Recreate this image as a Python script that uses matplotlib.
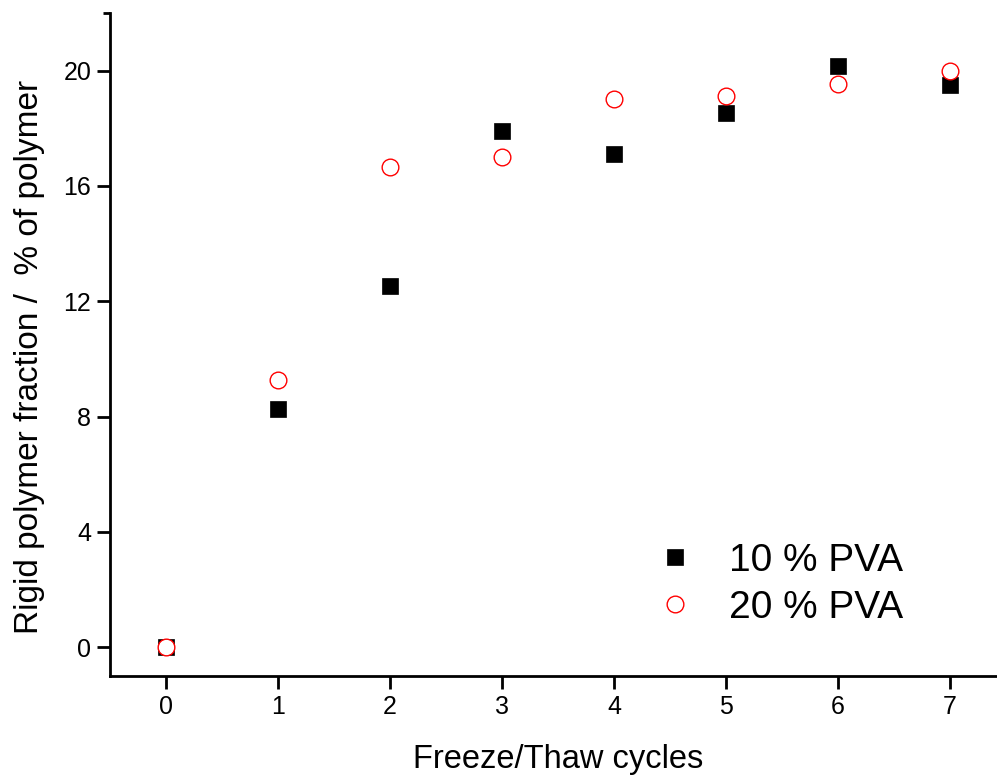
import matplotlib
matplotlib.use("Agg")
import matplotlib.pyplot as plt
from matplotlib.ticker import FixedLocator

plt.rcParams['font.family'] = ['Liberation Sans', 'DejaVu Sans']

cycles = [0, 1, 2, 3, 4, 5, 6, 7]
pva10 = [0.0, 8.26, 12.53, 17.92, 17.12, 18.54, 20.15, 19.49]
pva20 = [0.0, 9.27, 16.67, 17.01, 19.03, 19.13, 19.53, 19.98]
labels = ["10 % PVA", "20 % PVA"]

fig = plt.figure(figsize=(9.97, 7.78), dpi=100)
ax = fig.add_axes([110/997, 102/778, 896/997, 663/778])

ax.plot(cycles, pva10, linestyle='none', marker='s', ms=11, color='black',
        mec='black', mew=0.5, label=labels[0], zorder=3)
ax.plot(cycles, pva20, linestyle='none', marker='o', ms=12, mfc='white',
        mec='red', mew=1.0, label=labels[1], zorder=4)

ax.set_xlim(-0.5, 7.5)
ax.set_ylim(-1, 22)
ax.set_xticks(cycles)
ax.set_yticks([0, 4, 8, 12, 16, 20])
ax.yaxis.set_minor_locator(FixedLocator([22]))
ax.xaxis.set_minor_locator(FixedLocator([]))

for s in ['top', 'right']:
    ax.spines[s].set_visible(False)
for s in ['left', 'bottom']:
    ax.spines[s].set_linewidth(2)

ax.tick_params(axis='both', which='major', direction='out', length=9.5, width=2,
               labelsize=18, pad=4)
ax.tick_params(axis='y', which='minor', direction='out', length=5, width=2)

ax.set_xlabel("Freeze/Thaw cycles", fontsize=23.5, labelpad=18)
ax.set_ylabel("Rigid polymer fraction /  % of polymer", fontsize=24)
ax.yaxis.set_label_coords(-0.073, 0.481)

leg = ax.legend(loc='upper left', bbox_to_anchor=(643/997, 1 - 543/778),
                bbox_transform=fig.transFigure, frameon=False, fontsize=28,
                handlelength=1.65, handletextpad=0.55, labelspacing=0.28,
                borderpad=0, borderaxespad=0, markerscale=1.0)

fig.savefig("out.png", dpi=100)
